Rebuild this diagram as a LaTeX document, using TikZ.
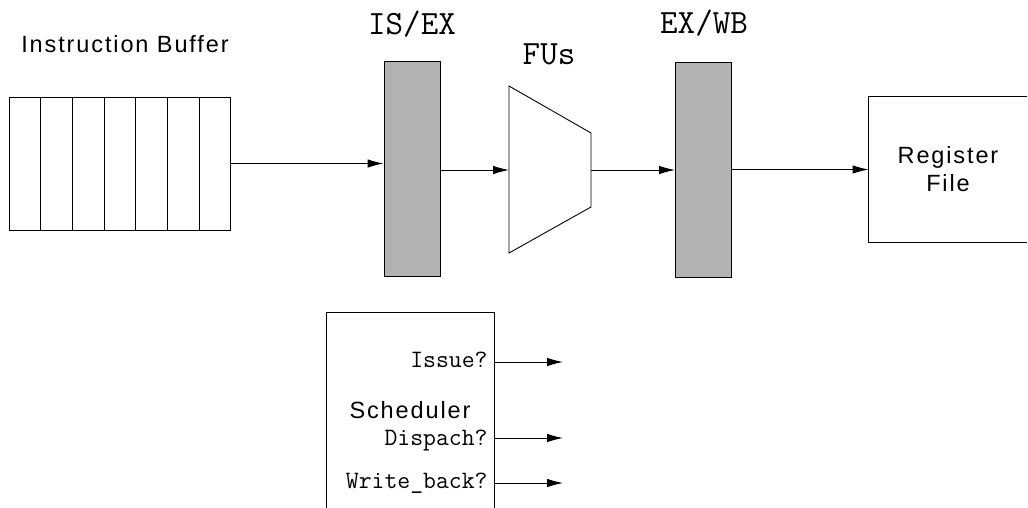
\documentclass[tikz,border=0pt]{standalone}
\usepackage{fontspec}
\newfontfamily\labelfont[LetterSpace=8]{Liberation Sans}
\usetikzlibrary{arrows.meta}
\tikzset{
  sig/.style={-{Latex[length=16pt,width=8.5pt]}},
  latch/.style={draw,fill=black!30,minimum width=56pt,minimum height=215pt,inner sep=0pt},
  slot/.style={draw,minimum width=31.7pt,minimum height=133pt,inner sep=0pt},
  stage/.style={font=\fontsize{34}{36}\ttfamily,anchor=base,inner sep=0pt},
  flag/.style={font=\fontsize{25}{28}\ttfamily,anchor=base east,inner sep=0pt},
  unit/.style={font=\fontsize{23.5}{28}\labelfont,align=center,inner sep=0pt}
}
\begin{document}
\begin{tikzpicture}[x=1pt,y=-1pt,line width=0.9pt]
    \useasboundingbox (0,0) rectangle (1028,508);
    \foreach \i in {1,...,7}
        \node [slot] (cell\i) at (9+31.7*\i-15.85,163.5) {};
    \node [unit,anchor=base] (buflabel) at (125,53) {Instruction Buffer};

    \node [latch] (isex) at (412,169) {};
    \node [stage] (isexlabel) at (412,35) {IS/EX};
    \node [latch] (exwb) at (703.5,170) {};
    \node [stage] (exwblabel) at (704,34) {EX/WB};

    \draw (509,86) -- (591,133) -- (591,207) -- (509,253) -- cycle;
    \coordinate (fuin) at (509,170);
    \coordinate (fuout) at (591,170);
    \node [stage] (fulabel) at (549,65) {FUs};

    \node [unit,minimum width=158pt,minimum height=145pt] (regfile) at (948,169.5) {Register\\File};
    \draw (regfile.north east) -- (regfile.north west) -- (regfile.south west) -- (regfile.south east);

    \draw [sig] (cell7.east) -- (isex.west |- cell7.east);
    \draw [sig] (isex.east |- fuin) -- (fuin);
    \draw [sig] (fuout) -- (exwb.west |- fuout);
    \draw [sig] (exwb.east |- regfile.west) -- (regfile.west);

    \node [minimum width=167pt,minimum height=200pt,inner sep=0pt] (sched) at (410.5,413) {};
    \draw (sched.south west) -- (sched.north west) -- (sched.north east) -- (sched.south east);
    \node [unit,anchor=base] (schedlabel) at (410,418) {Scheduler};
    \node [flag] (issue) at (488,367) {Issue?};
    \node [flag] (dispatch) at (488,445) {Dispach?};
    \node [flag] (wb) at (488,488) {Write\_back?};
    \coordinate (issueout) at (563,362);
    \coordinate (dispatchout) at (563,438);
    \coordinate (wbout) at (563,483);
    \draw [sig] (sched.east |- issueout) -- (issueout);
    \draw [sig] (sched.east |- dispatchout) -- (dispatchout);
    \draw [sig] (sched.east |- wbout) -- (wbout);
\end{tikzpicture}
\end{document}
